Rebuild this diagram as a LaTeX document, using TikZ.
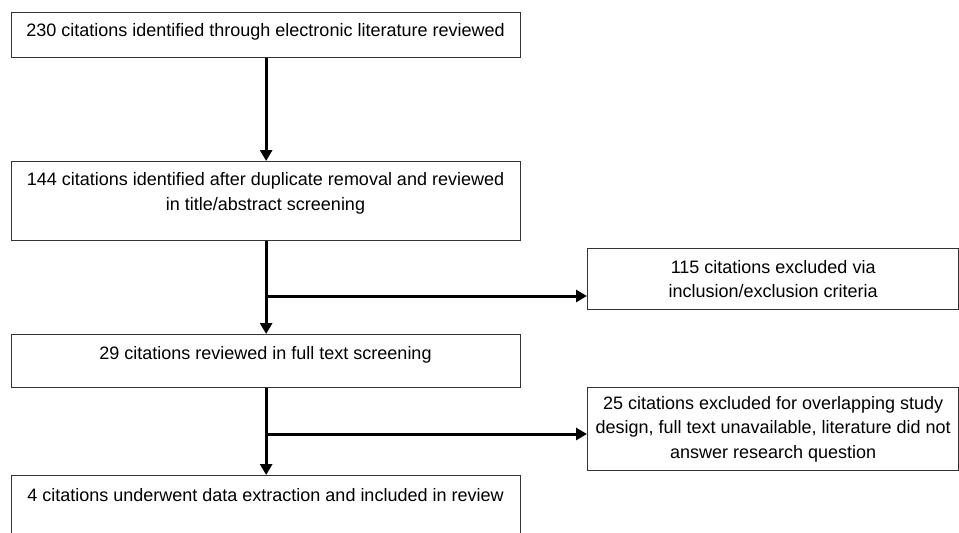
\documentclass[tikz,border=0pt]{standalone}
\usepackage{fontspec}
\setmainfont{Liberation Sans}
\usetikzlibrary{arrows.meta}
\begin{document}
\begin{tikzpicture}[x=1pt,y=-1pt,
  box/.style={draw=black!80,line width=1.3pt,rectangle,inner sep=0pt,anchor=north west},
  txt/.style={font=\fontsize{18}{24.5}\selectfont,align=center,inner sep=0pt},
  arr/.style={line width=3pt,-{Triangle[width=12pt,length=11pt]}},
  ln/.style={line width=3pt}]
\useasboundingbox (0,0) rectangle (959,533);
% main column
\node[box,minimum width=509pt,minimum height=45pt] (b1) at (11,12) {};
\node[txt,anchor=base] (t1) at (265.5,36.5) {230 citations identified through electronic literature reviewed};
\node[box,minimum width=509pt,minimum height=79pt] (b2) at (11,161) {};
\node[txt,anchor=center] (t2) at (265.5,193.5) {144 citations identified after duplicate removal and reviewed\\in title/abstract screening};
\node[box,minimum width=509pt,minimum height=53pt] (b3) at (11,334) {};
\node[txt,anchor=base] (t3) at (265.5,359) {29 citations reviewed in full text screening};
\node[box,minimum width=509pt,minimum height=80pt] (b4) at (11,475) {};
\node[txt,anchor=base] (t4) at (265.5,501.5) {4 citations underwent data extraction and included in review};
% side boxes
\node[box,minimum width=371pt,minimum height=61pt] (r1) at (587,248) {};
\node[txt,anchor=center] (tr1) at (r1.center) {115 citations excluded via\\inclusion/exclusion criteria};
\node[box,minimum width=371pt,minimum height=83pt] (r2) at (587,387) {};
\node[txt,anchor=center] (tr2) at (r2.center) {25 citations excluded for overlapping study\\design, full text unavailable, literature did not\\answer research question};
% connectors
\coordinate (j1) at (265.5,296);
\coordinate (j2) at (265.5,434);
\draw[arr] (b1.south) -- (b2.north);
\draw[arr] (b2.south) -- (b3.north);
\draw[arr] (j1) -- (j1 -| r1.west);
\draw[arr] (b3.south) -- (b4.north);
\draw[arr] (j2) -- (j2 -| r2.west);
\end{tikzpicture}
\end{document}
